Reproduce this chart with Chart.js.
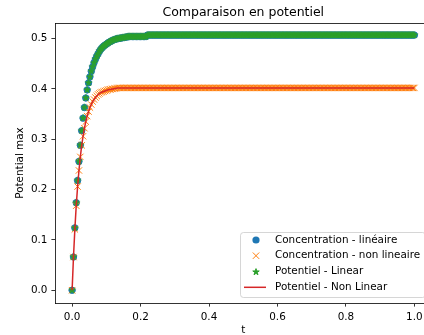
<!DOCTYPE html>
<html>
<head>
<meta charset="utf-8">
<script src="https://cdn.jsdelivr.net/npm/chart.js@4/dist/chart.umd.min.js"></script>
<style>
html, body { margin: 0; padding: 0; background: #fff; overflow: hidden; }
#wrap { width: 424px; height: 335px; overflow: hidden; }
</style>
</head>
<body>
<div id="wrap"><canvas id="data-chart" width="437" height="335"></canvas></div>
<script>
// time values (x)
const T = [
0,0.004,0.008,0.012,0.016,0.02,0.024,0.028,0.032,0.036,
0.04,0.044,0.048,0.052,0.056,0.06,0.064,0.068,0.072,0.076,
0.08,0.084,0.088,0.092,0.096,0.1,0.104,0.108,0.112,0.116,
0.12,0.124,0.128,0.132,0.136,0.14,0.144,0.148,0.152,0.156,
0.16,0.164,0.168,0.172,0.176,0.18,0.184,0.188,0.192,0.196,
0.2,0.204,0.208,0.212,0.216,0.22,0.224,0.228,0.232,0.236,
0.24,0.244,0.248,0.252,0.256,0.26,0.264,0.268,0.272,0.276,
0.28,0.284,0.288,0.292,0.296,0.3,0.304,0.308,0.312,0.316,
0.32,0.324,0.328,0.332,0.336,0.34,0.344,0.348,0.352,0.356,
0.36,0.364,0.368,0.372,0.376,0.38,0.384,0.388,0.392,0.396,
0.4,0.404,0.408,0.412,0.416,0.42,0.424,0.428,0.432,0.436,
0.44,0.444,0.448,0.452,0.456,0.46,0.464,0.468,0.472,0.476,
0.48,0.484,0.488,0.492,0.496,0.5,0.504,0.508,0.512,0.516,
0.52,0.524,0.528,0.532,0.536,0.54,0.544,0.548,0.552,0.556,
0.56,0.564,0.568,0.572,0.576,0.58,0.584,0.588,0.592,0.596,
0.6,0.604,0.608,0.612,0.616,0.62,0.624,0.628,0.632,0.636,
0.64,0.644,0.648,0.652,0.656,0.66,0.664,0.668,0.672,0.676,
0.68,0.684,0.688,0.692,0.696,0.7,0.704,0.708,0.712,0.716,
0.72,0.724,0.728,0.732,0.736,0.74,0.744,0.748,0.752,0.756,
0.76,0.764,0.768,0.772,0.776,0.78,0.784,0.788,0.792,0.796,
0.8,0.804,0.808,0.812,0.816,0.82,0.824,0.828,0.832,0.836,
0.84,0.844,0.848,0.852,0.856,0.86,0.864,0.868,0.872,0.876,
0.88,0.884,0.888,0.892,0.896,0.9,0.904,0.908,0.912,0.916,
0.92,0.924,0.928,0.932,0.936,0.94,0.944,0.948,0.952,0.956,
0.96,0.964,0.968,0.972,0.976,0.98,0.984,0.988,0.992,0.996,
1
];

// Concentration - linéaire (blue circles)
const CONC_LIN = [
0,0.066,0.124,0.174,0.218,0.256,0.288,0.317,0.342,0.363,
0.382,0.398,0.412,0.424,0.435,0.444,0.452,0.459,0.465,0.47,
0.475,0.479,0.482,0.485,0.487,0.489,0.491,0.493,0.494,0.496,
0.497,0.498,0.499,0.5,0.5,0.501,0.501,0.502,0.502,0.503,
0.503,0.504,0.504,0.504,0.504,0.504,0.504,0.504,0.504,0.504,
0.504,0.504,0.504,0.504,0.504,0.507,0.507,0.507,0.507,0.507,
0.507,0.507,0.507,0.507,0.507,0.507,0.507,0.507,0.507,0.507,
0.507,0.507,0.507,0.507,0.507,0.507,0.507,0.507,0.507,0.507,
0.507,0.507,0.507,0.507,0.507,0.507,0.507,0.507,0.507,0.507,
0.507,0.507,0.507,0.507,0.507,0.507,0.507,0.507,0.507,0.507,
0.507,0.507,0.507,0.507,0.507,0.507,0.507,0.507,0.507,0.507,
0.507,0.507,0.507,0.507,0.507,0.507,0.507,0.507,0.507,0.507,
0.507,0.507,0.507,0.507,0.507,0.507,0.507,0.507,0.507,0.507,
0.507,0.507,0.507,0.507,0.507,0.507,0.507,0.507,0.507,0.507,
0.507,0.507,0.507,0.507,0.507,0.507,0.507,0.507,0.507,0.507,
0.507,0.507,0.507,0.507,0.507,0.507,0.507,0.507,0.507,0.507,
0.507,0.507,0.507,0.507,0.507,0.507,0.507,0.507,0.507,0.507,
0.507,0.507,0.507,0.507,0.507,0.507,0.507,0.507,0.507,0.507,
0.507,0.507,0.507,0.507,0.507,0.507,0.507,0.507,0.507,0.507,
0.507,0.507,0.507,0.507,0.507,0.507,0.507,0.507,0.507,0.507,
0.507,0.507,0.507,0.507,0.507,0.507,0.507,0.507,0.507,0.507,
0.507,0.507,0.507,0.507,0.507,0.507,0.507,0.507,0.507,0.507,
0.507,0.507,0.507,0.507,0.507,0.507,0.507,0.507,0.507,0.507,
0.507,0.507,0.507,0.507,0.507,0.507,0.507,0.507,0.507,0.507,
0.507,0.507,0.507,0.507,0.507,0.507,0.507,0.507,0.507,0.507,
0.507
];

// Concentration - non lineaire (orange crosses)
const CONC_NONLIN = [
0,0.066,0.121,0.168,0.206,0.238,0.265,0.288,0.306,0.322,
0.335,0.346,0.355,0.363,0.369,0.375,0.379,0.383,0.386,0.389,
0.391,0.393,0.394,0.395,0.396,0.397,0.398,0.399,0.399,0.4,
0.4,0.401,0.401,0.402,0.402,0.402,0.402,0.402,0.402,0.402,
0.402,0.402,0.402,0.402,0.402,0.402,0.402,0.402,0.402,0.402,
0.402,0.402,0.402,0.402,0.402,0.402,0.402,0.402,0.402,0.402,
0.402,0.402,0.402,0.402,0.402,0.402,0.402,0.402,0.402,0.402,
0.402,0.402,0.402,0.402,0.402,0.402,0.402,0.402,0.402,0.402,
0.402,0.402,0.402,0.402,0.402,0.402,0.402,0.402,0.402,0.402,
0.402,0.402,0.402,0.402,0.402,0.402,0.402,0.402,0.402,0.402,
0.402,0.402,0.402,0.402,0.402,0.402,0.402,0.402,0.402,0.402,
0.402,0.402,0.402,0.402,0.402,0.402,0.402,0.402,0.402,0.402,
0.402,0.402,0.402,0.402,0.402,0.402,0.402,0.402,0.402,0.402,
0.402,0.402,0.402,0.402,0.402,0.402,0.402,0.402,0.402,0.402,
0.402,0.402,0.402,0.402,0.402,0.402,0.402,0.402,0.402,0.402,
0.402,0.402,0.402,0.402,0.402,0.402,0.402,0.402,0.402,0.402,
0.402,0.402,0.402,0.402,0.402,0.402,0.402,0.402,0.402,0.402,
0.402,0.402,0.402,0.402,0.402,0.402,0.402,0.402,0.402,0.402,
0.402,0.402,0.402,0.402,0.402,0.402,0.402,0.402,0.402,0.402,
0.402,0.402,0.402,0.402,0.402,0.402,0.402,0.402,0.402,0.402,
0.402,0.402,0.402,0.402,0.402,0.402,0.402,0.402,0.402,0.402,
0.402,0.402,0.402,0.402,0.402,0.402,0.402,0.402,0.402,0.402,
0.402,0.402,0.402,0.402,0.402,0.402,0.402,0.402,0.402,0.402,
0.402,0.402,0.402,0.402,0.402,0.402,0.402,0.402,0.402,0.402,
0.402,0.402,0.402,0.402,0.402,0.402,0.402,0.402,0.402,0.402,
0.402
];

// Potentiel - Linear (green stars)
const POT_LIN = [
0,0.066,0.124,0.174,0.218,0.256,0.288,0.317,0.342,0.363,
0.382,0.398,0.412,0.424,0.435,0.444,0.452,0.459,0.465,0.47,
0.475,0.479,0.482,0.485,0.487,0.489,0.491,0.493,0.494,0.496,
0.497,0.498,0.499,0.5,0.5,0.501,0.501,0.502,0.502,0.503,
0.503,0.504,0.504,0.504,0.504,0.504,0.504,0.504,0.504,0.504,
0.504,0.504,0.504,0.504,0.504,0.507,0.507,0.507,0.507,0.507,
0.507,0.507,0.507,0.507,0.507,0.507,0.507,0.507,0.507,0.507,
0.507,0.507,0.507,0.507,0.507,0.507,0.507,0.507,0.507,0.507,
0.507,0.507,0.507,0.507,0.507,0.507,0.507,0.507,0.507,0.507,
0.507,0.507,0.507,0.507,0.507,0.507,0.507,0.507,0.507,0.507,
0.507,0.507,0.507,0.507,0.507,0.507,0.507,0.507,0.507,0.507,
0.507,0.507,0.507,0.507,0.507,0.507,0.507,0.507,0.507,0.507,
0.507,0.507,0.507,0.507,0.507,0.507,0.507,0.507,0.507,0.507,
0.507,0.507,0.507,0.507,0.507,0.507,0.507,0.507,0.507,0.507,
0.507,0.507,0.507,0.507,0.507,0.507,0.507,0.507,0.507,0.507,
0.507,0.507,0.507,0.507,0.507,0.507,0.507,0.507,0.507,0.507,
0.507,0.507,0.507,0.507,0.507,0.507,0.507,0.507,0.507,0.507,
0.507,0.507,0.507,0.507,0.507,0.507,0.507,0.507,0.507,0.507,
0.507,0.507,0.507,0.507,0.507,0.507,0.507,0.507,0.507,0.507,
0.507,0.507,0.507,0.507,0.507,0.507,0.507,0.507,0.507,0.507,
0.507,0.507,0.507,0.507,0.507,0.507,0.507,0.507,0.507,0.507,
0.507,0.507,0.507,0.507,0.507,0.507,0.507,0.507,0.507,0.507,
0.507,0.507,0.507,0.507,0.507,0.507,0.507,0.507,0.507,0.507,
0.507,0.507,0.507,0.507,0.507,0.507,0.507,0.507,0.507,0.507,
0.507,0.507,0.507,0.507,0.507,0.507,0.507,0.507,0.507,0.507,
0.507
];

// Potentiel - Non Linear (red line)
const POT_NONLIN = [
0,0.066,0.121,0.168,0.206,0.238,0.265,0.288,0.306,0.322,
0.335,0.346,0.355,0.363,0.369,0.375,0.379,0.383,0.386,0.389,
0.391,0.393,0.394,0.395,0.396,0.397,0.398,0.399,0.399,0.4,
0.4,0.401,0.401,0.402,0.402,0.402,0.402,0.402,0.402,0.402,
0.402,0.402,0.402,0.402,0.402,0.402,0.402,0.402,0.402,0.402,
0.402,0.402,0.402,0.402,0.402,0.402,0.402,0.402,0.402,0.402,
0.402,0.402,0.402,0.402,0.402,0.402,0.402,0.402,0.402,0.402,
0.402,0.402,0.402,0.402,0.402,0.402,0.402,0.402,0.402,0.402,
0.402,0.402,0.402,0.402,0.402,0.402,0.402,0.402,0.402,0.402,
0.402,0.402,0.402,0.402,0.402,0.402,0.402,0.402,0.402,0.402,
0.402,0.402,0.402,0.402,0.402,0.402,0.402,0.402,0.402,0.402,
0.402,0.402,0.402,0.402,0.402,0.402,0.402,0.402,0.402,0.402,
0.402,0.402,0.402,0.402,0.402,0.402,0.402,0.402,0.402,0.402,
0.402,0.402,0.402,0.402,0.402,0.402,0.402,0.402,0.402,0.402,
0.402,0.402,0.402,0.402,0.402,0.402,0.402,0.402,0.402,0.402,
0.402,0.402,0.402,0.402,0.402,0.402,0.402,0.402,0.402,0.402,
0.402,0.402,0.402,0.402,0.402,0.402,0.402,0.402,0.402,0.402,
0.402,0.402,0.402,0.402,0.402,0.402,0.402,0.402,0.402,0.402,
0.402,0.402,0.402,0.402,0.402,0.402,0.402,0.402,0.402,0.402,
0.402,0.402,0.402,0.402,0.402,0.402,0.402,0.402,0.402,0.402,
0.402,0.402,0.402,0.402,0.402,0.402,0.402,0.402,0.402,0.402,
0.402,0.402,0.402,0.402,0.402,0.402,0.402,0.402,0.402,0.402,
0.402,0.402,0.402,0.402,0.402,0.402,0.402,0.402,0.402,0.402,
0.402,0.402,0.402,0.402,0.402,0.402,0.402,0.402,0.402,0.402,
0.402,0.402,0.402,0.402,0.402,0.402,0.402,0.402,0.402,0.402,
0.402
];

const LABELS = ['Concentration - linéaire', 'Concentration - non lineaire', 'Potentiel - Linear', 'Potentiel - Non Linear'];
const X_TICKS = [0, 0.2, 0.4, 0.6, 0.8, 1.0];
const Y_TICKS = [0, 0.1, 0.2, 0.3, 0.4, 0.5];

const FONT = 'DejaVu Sans';
const BLUE = '#1f77b4', ORANGE = '#ff7f0e', GREEN = '#2ca02c', RED = '#d62728';

Chart.defaults.font.family = FONT;
Chart.defaults.color = '#000';

function pts(ys) {
  return T.map((t, i) => ({ x: t, y: ys[i] }));
}

// filled 5 point star like matplotlib '*'
function starImg(r) {
  const c = document.createElement('canvas');
  const s = Math.ceil(2 * r + 3);
  c.width = s; c.height = s;
  const g = c.getContext('2d');
  g.translate(s / 2, s / 2);
  g.beginPath();
  for (let k = 0; k < 10; k++) {
    const rad = k % 2 ? r * 0.381966 : r;
    const a = -Math.PI / 2 + k * Math.PI / 5;
    g.lineTo(rad * Math.cos(a), rad * Math.sin(a));
  }
  g.closePath();
  g.fillStyle = GREEN;
  g.fill();
  g.strokeStyle = GREEN;
  g.lineWidth = 1;
  g.stroke();
  return c;
}
const STAR = starImg(3.4);

// top/right spines + legend box in the lower right corner
const framePlugin = {
  id: 'frame',
  afterDraw(chart) {
    const { ctx, chartArea: a } = chart;
    ctx.save();
    ctx.strokeStyle = '#000';
    ctx.lineWidth = 0.8;
    ctx.beginPath();
    ctx.moveTo(a.left, a.top + 0.5);
    ctx.lineTo(a.right, a.top + 0.5);
    ctx.lineTo(a.right, a.bottom);
    ctx.stroke();

    // legend
    const bx = 240.5, by = 232.5, bw = 185, bh = 65;
    ctx.beginPath();
    ctx.roundRect(bx, by, bw, bh, 3);
    ctx.fillStyle = 'rgba(255,255,255,0.8)';
    ctx.fill();
    ctx.strokeStyle = 'rgba(204,204,204,0.8)';
    ctx.lineWidth = 1;
    ctx.stroke();

    const rows = [240, 255.7, 271.5, 287.3];
    const mx = 256;
    ctx.font = '10.4px "' + FONT + '"';
    ctx.textBaseline = 'middle';
    ctx.textAlign = 'left';
    chart.data.datasets.forEach((ds, i) => {
      const y = rows[i];
      if (i === 0) {
        ctx.beginPath();
        ctx.arc(mx, y, 3.6, 0, Math.PI * 2);
        ctx.fillStyle = BLUE;
        ctx.fill();
      } else if (i === 1) {
        ctx.beginPath();
        ctx.moveTo(mx - 3.2, y - 3.2); ctx.lineTo(mx + 3.2, y + 3.2);
        ctx.moveTo(mx - 3.2, y + 3.2); ctx.lineTo(mx + 3.2, y - 3.2);
        ctx.strokeStyle = ORANGE;
        ctx.lineWidth = 1;
        ctx.stroke();
      } else if (i === 2) {
        ctx.drawImage(STAR, Math.round(mx - STAR.width / 2), Math.round(y - STAR.height / 2));
      } else {
        ctx.beginPath();
        ctx.moveTo(244, y); ctx.lineTo(266, y);
        ctx.strokeStyle = RED;
        ctx.lineWidth = 1.5;
        ctx.stroke();
      }
      ctx.fillStyle = '#000';
      ctx.fillText(ds.label, 275, y);
    });
    ctx.restore();
  }
};

const tickFont = { family: FONT, size: 10.4 };
const axisGrid = { display: true, drawOnChartArea: false, drawTicks: true, tickLength: 3.6, color: '#000', lineWidth: 0.8 };
const axisBorder = { display: true, color: '#000', width: 0.8 };

new Chart(document.getElementById('data-chart'), {
  type: 'scatter',
  data: {
    datasets: [
      { label: LABELS[0], data: pts(CONC_LIN), order: 4,
        pointStyle: 'circle', pointRadius: 3.2, borderWidth: 1,
        backgroundColor: BLUE, borderColor: BLUE },
      { label: LABELS[1], data: pts(CONC_NONLIN), order: 3,
        pointStyle: 'crossRot', pointRadius: 4.5, borderWidth: 1,
        backgroundColor: ORANGE, borderColor: ORANGE },
      { label: LABELS[2], data: pts(POT_LIN), order: 2,
        pointStyle: STAR, pointRadius: 3.4,
        backgroundColor: GREEN, borderColor: GREEN },
      { label: LABELS[3], data: pts(POT_NONLIN), order: 1,
        showLine: true, pointRadius: 0, borderWidth: 1.5,
        borderColor: RED, backgroundColor: RED, tension: 0 }
    ]
  },
  options: {
    responsive: false,
    animation: false,
    events: [],
    layout: { padding: { left: 0, right: 1, top: 0, bottom: 0 } },
    plugins: {
      legend: { display: false },
      tooltip: { enabled: false },
      title: {
        display: true,
        fullSize: false,
        text: 'Comparaison en potentiel',
        font: { family: FONT, size: 12.5, weight: 'normal' },
        color: '#000',
        padding: { top: 5, bottom: 3 }
      }
    },
    scales: {
      x: {
        type: 'linear',
        min: -0.05, max: 1.05,
        afterBuildTicks: s => { s.ticks = X_TICKS.map(v => ({ value: v })); },
        afterFit: s => { s.height = 32; },
        ticks: { font: tickFont, color: '#000', padding: 4, maxRotation: 0, autoSkip: false,
                 callback: v => v.toFixed(1) },
        grid: axisGrid,
        border: axisBorder,
        title: { display: true, text: 't', font: tickFont, color: '#000', padding: { top: 0, bottom: -1.5 } }
      },
      y: {
        type: 'linear',
        min: -0.0253, max: 0.531,
        afterBuildTicks: s => { s.ticks = Y_TICKS.map(v => ({ value: v })); },
        afterFit: s => { s.width = 55; },
        ticks: { font: tickFont, color: '#000', padding: 4, autoSkip: false,
                 callback: v => v.toFixed(1) },
        grid: axisGrid,
        border: axisBorder,
        title: { display: true, text: 'Potential max', font: tickFont, color: '#000', padding: { top: 14, bottom: 0 } }
      }
    }
  },
  plugins: [framePlugin]
});
</script>
</body>
</html>
